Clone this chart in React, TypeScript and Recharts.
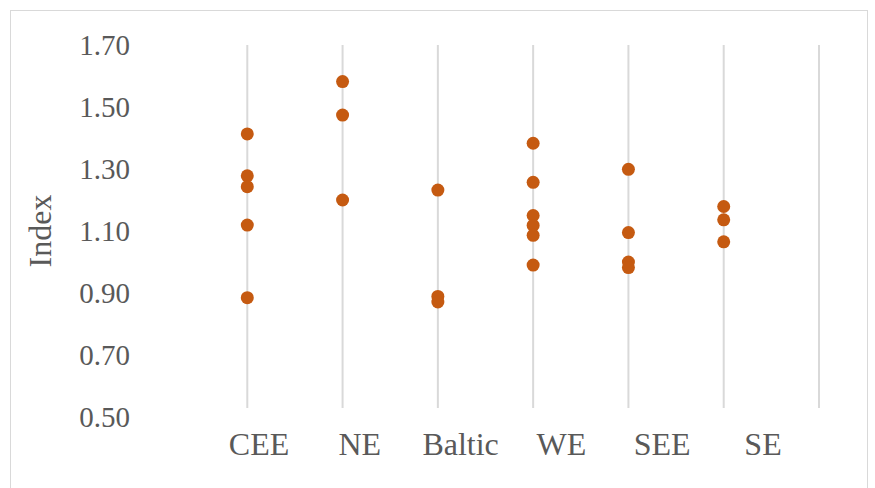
import React from 'react';
import { ScatterChart, Scatter, XAxis, YAxis, CartesianGrid } from 'recharts';

const categories = ['CEE', 'NE', 'Baltic', 'WE', 'SEE', 'SE'];
const ceeValues = [1.413, 1.278, 1.243, 1.119, 0.885];
const neValues = [1.582, 1.474, 1.2];
const balticValues = [1.232, 0.889, 0.871];
const weValues = [1.383, 1.257, 1.15, 1.118, 1.086, 0.99];
const seeValues = [1.299, 1.095, 1.0, 0.982];
const seValues = [1.179, 1.136, 1.065];
const yTicks = [0.5, 0.7, 0.9, 1.1, 1.3, 1.5, 1.7];
const gridTicks = [1, 2, 3, 4, 5, 6, 7];

const seriesValues = [ceeValues, neValues, balticValues, weValues, seeValues, seValues];
const points = seriesValues.flatMap((vals, i) => vals.map((v) => ({ x: i + 1, y: v })));
const labelRows = categories.map((name, i) => ({ pos: i + 1, name }));

const FONT = '"Liberation Serif", "Times New Roman", serif';
const TEXT = '#595959';
const DOT = '#C55A11';

const EmptyTick = () => <g />;
const Dot = (p: any) => <circle cx={p.cx} cy={p.cy} r={6.5} fill={DOT} />;

export default function App() {
  return (
    <div style={{ position: 'absolute', left: 0, top: 0, width: 875, height: 488, overflow: 'hidden', background: '#fff' }}>
      <div style={{ position: 'absolute', left: 10, top: 10, width: 858, height: 520, border: '1px solid #d9d9d9', boxSizing: 'border-box' }} />
      <div style={{ position: 'absolute', left: 0, top: 0 }}>
        <ScatterChart width={875} height={488} data={labelRows} margin={{ top: 45, right: 56, bottom: 0, left: 0 }}>
          <CartesianGrid
            xAxisId="main"
            horizontal={false}
            syncWithTicks
            stroke="#d9d9d9"
            strokeWidth={2}
            y={45}
            height={363}
          />
          <XAxis
            xAxisId="main"
            type="number"
            dataKey="x"
            domain={[0, 7]}
            ticks={gridTicks}
            interval={0}
            tick={<EmptyTick />}
            axisLine={false}
            tickLine={false}
            height={0}
          />
          <XAxis
            xAxisId="cat"
            type="number"
            dataKey="pos"
            domain={[1, 6]}
            allowDataOverflow
            ticks={labelRows.map((r) => r.pos)}
            padding={{ left: 107, right: 56 }}
            tickFormatter={(v: number) => categories[v - 1]}
            axisLine={false}
            tickLine={false}
            tickSize={0}
            tickMargin={15}
            height={71}
            interval={0}
            tick={{ fontSize: 32, fill: TEXT, fontFamily: FONT }}
          />
          <YAxis
            type="number"
            dataKey="y"
            domain={[0.5, 1.7]}
            ticks={yTicks}
            interval={0}
            tickFormatter={(v: number) => v.toFixed(2)}
            axisLine={false}
            tickLine={false}
            tickSize={0}
            tickMargin={22}
            width={152}
            tick={{ fontSize: 29, fill: TEXT, fontFamily: FONT }}
            label={{
              value: 'Index',
              angle: -90,
              position: 'insideLeft',
              offset: 40,
              style: { textAnchor: 'middle', fontSize: 32, fill: TEXT, fontFamily: FONT },
            }}
          />
          <Scatter xAxisId="main" data={points} fill={DOT} shape={Dot} isAnimationActive={false} />
        </ScatterChart>
      </div>
    </div>
  );
}
